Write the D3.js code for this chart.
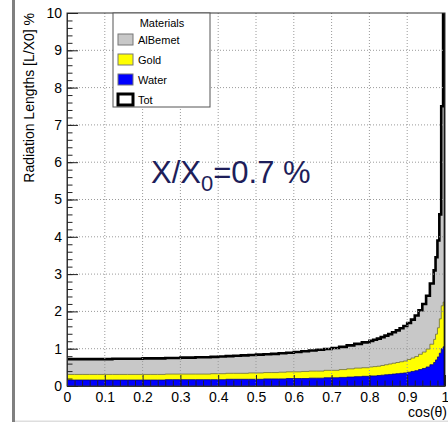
<!DOCTYPE html>
<html>
<head>
<meta charset="utf-8">
<script src="https://cdn.jsdelivr.net/npm/d3@7"></script>
<style>
  body { margin: 0; background: #fff; }
  text { font-family: "Liberation Sans", Arial, sans-serif; }
</style>
</head>
<body>
<svg id="chart" width="448" height="422"></svg>
<script>
// bin edges in cos(theta) (finer bins towards 1)
const edges = [0,0.02,0.04,0.06,0.08,0.10,0.12,0.14,0.16,0.18,0.20,0.22,0.24,0.26,0.28,0.30,
  0.32,0.34,0.36,0.38,0.40,0.42,0.44,0.46,0.48,0.50,0.52,0.54,0.56,0.58,0.60,0.62,0.64,0.66,
  0.68,0.70,0.72,0.74,0.76,0.78,0.80,0.81,0.82,0.83,0.84,0.85,0.86,0.87,0.88,0.89,0.90,0.91,
  0.92,0.93,0.94,0.95,0.96,0.97,0.975,0.98,0.985,0.99,0.995,1.0];

const water = [0.16,0.16,0.16,0.16,0.16,0.16,0.16,0.16,0.16,0.16,0.16,0.16,0.16,0.17,0.17,0.17,
  0.17,0.17,0.17,0.17,0.17,0.18,0.18,0.18,0.18,0.18,0.19,0.19,0.19,0.20,0.20,0.20,0.21,0.21,
  0.22,0.22,0.23,0.24,0.25,0.26,0.27,0.27,0.28,0.29,0.30,0.31,0.32,0.33,0.34,0.35,0.37,0.39,
  0.41,0.44,0.47,0.51,0.57,0.63,0.70,0.78,0.88,1.00,1.05];

const gold = [0.15,0.15,0.15,0.15,0.15,0.15,0.15,0.15,0.15,0.15,0.15,0.15,0.15,0.15,0.15,0.15,
  0.15,0.15,0.15,0.16,0.16,0.16,0.16,0.16,0.17,0.17,0.17,0.17,0.18,0.18,0.18,0.19,0.19,0.19,
  0.20,0.20,0.21,0.22,0.23,0.23,0.24,0.25,0.25,0.26,0.27,0.28,0.29,0.30,0.31,0.32,0.34,0.36,
  0.38,0.41,0.44,0.48,0.55,0.62,0.69,0.78,0.92,1.15,1.20];

const albemet = [0.41,0.41,0.41,0.41,0.41,0.41,0.42,0.42,0.42,0.42,0.43,0.43,0.43,0.43,0.43,0.44,
  0.44,0.45,0.45,0.45,0.46,0.46,0.47,0.48,0.48,0.49,0.49,0.50,0.51,0.51,0.53,0.54,0.55,0.57,
  0.57,0.60,0.61,0.63,0.65,0.68,0.70,0.72,0.74,0.76,0.78,0.80,0.83,0.86,0.90,0.94,0.98,1.03,
  1.10,1.18,1.29,1.43,1.63,1.85,2.06,2.34,2.80,5.35,8.25];

const xTicks = [0,0.1,0.2,0.3,0.4,0.5,0.6,0.7,0.8,0.9,1];
const yTicks = [0,1,2,3,4,5,6,7,8,9,10];
const legendItems = [
  {name: 'AlBemet', fill: '#c8c8c8', stroke: '#777', sw: 1},
  {name: 'Gold', fill: '#ffff00', stroke: '#777', sw: 1},
  {name: 'Water', fill: '#0000ff', stroke: '#777', sw: 1},
  {name: 'Tot', fill: '#fff', stroke: '#000', sw: 3}
];

const svg = d3.select('#chart');
const L = 67, R = 445, T = 13, B = 386;

// screenshot edge decorations
svg.append('rect').attr('x', 12).attr('y', 0).attr('width', 3).attr('height', 422).attr('fill', '#808080');
svg.append('rect').attr('x', 15).attr('y', 420.5).attr('width', 433).attr('height', 1.5).attr('fill', '#dedede');

const x = d3.scaleLinear().domain([0, 1]).range([L, R]);
const y = d3.scaleLinear().domain([0, 10]).range([B, T]);

svg.append('clipPath').attr('id', 'frame')
  .append('rect').attr('x', L).attr('y', T).attr('width', R - L).attr('height', B - T);

// stacked bins
const bins = water.map((w, i) => ({x0: edges[i], x1: edges[i + 1], water: w, gold: gold[i], albemet: albemet[i]}));
const stack = d3.stack().keys(['water', 'gold', 'albemet'])(bins);

function stepPts(layer) {
  const pts = [];
  layer.forEach(d => {
    pts.push({x: d.data.x0, y0: d[0], y1: d[1]});
    pts.push({x: d.data.x1, y0: d[0], y1: d[1]});
  });
  return pts;
}

const area = d3.area().x(d => x(d.x)).y0(y(0)).y1(d => y(d.y1));
const topLine = d3.line().x(d => x(d.x)).y(d => y(d.y1));

const hist = svg.append('g').attr('clip-path', 'url(#frame)');
const fills = {water: '#0000ff', gold: '#ffff00', albemet: '#c8c8c8'};
// draw from top of stack down so the lower layers sit on top
[2, 1, 0].forEach(k => {
  const pts = stepPts(stack[k]);
  hist.append('path').attr('d', area(pts)).attr('fill', fills[stack[k].key]);
  if (k < 2) {
    hist.append('path').attr('d', topLine(pts)).attr('fill', 'none')
      .attr('stroke', k === 1 ? '#6b6b40' : '#00008a').attr('stroke-width', 0.8);
  }
});

// grid (dotted, over the histograms like ROOT)
const grid = svg.append('g').attr('stroke', '#9a9a9a').attr('stroke-width', 1).attr('stroke-dasharray', '1,2');
xTicks.slice(1, -1).forEach(v => {
  grid.append('line').attr('x1', x(v)).attr('x2', x(v)).attr('y1', T).attr('y2', B);
});
yTicks.slice(1, -1).forEach(v => {
  grid.append('line').attr('x1', L).attr('x2', R).attr('y1', y(v)).attr('y2', y(v));
});

// total outline
const totPts = stepPts(stack[2]);
totPts.push({x: 1, y1: 0});
hist.append('path').attr('d', topLine(totPts)).attr('fill', 'none')
  .attr('stroke', '#000').attr('stroke-width', 2.6).attr('stroke-linejoin', 'miter');

// frame
svg.append('rect').attr('x', L).attr('y', T).attr('width', R - L).attr('height', B - T)
  .attr('fill', 'none').attr('stroke', '#333').attr('stroke-width', 1);

// axes with inward ticks
const xAxis = d3.axisBottom(x).tickValues(xTicks)
  .tickFormat(d => d === 0 ? '0' : (d === 1 ? '1' : d3.format('.1f')(d)))
  .tickSizeInner(-11).tickSizeOuter(0).tickPadding(6);
const gx = svg.append('g').attr('transform', `translate(0,${B})`).call(xAxis);
gx.select('.domain').attr('stroke', '#333');
gx.selectAll('text').attr('font-size', 14).attr('fill', '#000');

const xMinor = d3.axisBottom(x).ticks(50).tickSizeInner(-5.5).tickSizeOuter(0).tickFormat('');
svg.append('g').attr('transform', `translate(0,${B})`).call(xMinor).select('.domain').remove();

const yAxis = d3.axisLeft(y).tickValues(yTicks).tickSizeInner(-11).tickSizeOuter(0).tickPadding(5);
const gy = svg.append('g').attr('transform', `translate(${L},0)`).call(yAxis);
gy.select('.domain').attr('stroke', '#333');
gy.selectAll('text').attr('font-size', 14).attr('fill', '#000');

const yMinor = d3.axisLeft(y).ticks(50).tickSizeInner(-5.5).tickSizeOuter(0).tickFormat('');
svg.append('g').attr('transform', `translate(${L},0)`).call(yMinor).select('.domain').remove();

svg.selectAll('.tick line').attr('stroke', '#222');

// axis titles
svg.append('text').attr('transform', `translate(34,${T}) rotate(-90)`)
  .attr('text-anchor', 'end').attr('font-size', 14).text('Radiation Lengths [L/X0] %');
svg.append('text').attr('x', R + 2).attr('y', 417).attr('text-anchor', 'end')
  .attr('font-size', 14).text('cos(\u03b8)');

// legend
const lg = svg.append('g');
lg.append('rect').attr('x', 113).attr('y', T).attr('width', 97).attr('height', 94)
  .attr('fill', '#fff').attr('stroke', '#555').attr('stroke-width', 1);
lg.append('text').attr('x', 162).attr('y', 27).attr('text-anchor', 'middle')
  .attr('font-size', 11).text('Materials');
legendItems.forEach((d, i) => {
  const yy = 34 + i * 20;
  lg.append('rect').attr('x', 118).attr('y', yy).attr('width', 15).attr('height', 11)
    .attr('fill', d.fill).attr('stroke', d.stroke).attr('stroke-width', d.sw);
  lg.append('text').attr('x', 138).attr('y', yy + 10).attr('font-size', 11).text(d.name);
});

// annotation
const ann = svg.append('text').attr('x', 151).attr('y', 183)
  .attr('font-family', 'Open Sans, sans-serif').attr('font-size', 31).attr('fill', '#1e1e5a');
ann.append('tspan').text('X/X');
ann.append('tspan').attr('font-size', 22).attr('dy', 8).text('0');
ann.append('tspan').attr('dy', -8).text('=0.7 %');
</script>
</body>
</html>
